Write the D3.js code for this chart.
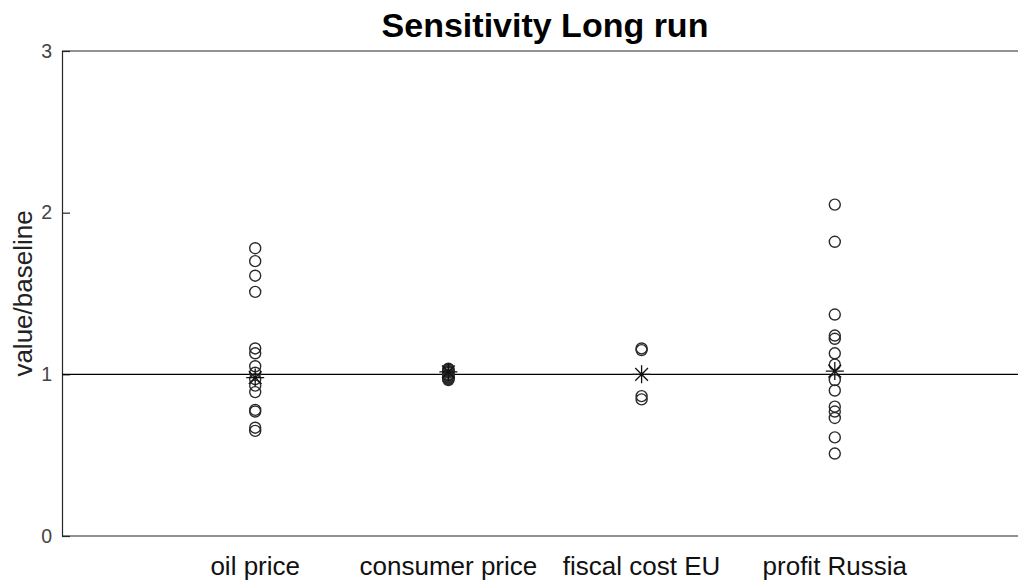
<!DOCTYPE html>
<html>
<head>
<meta charset="utf-8">
<script src="https://cdn.jsdelivr.net/npm/d3@7"></script>
<style>
  html, body { margin: 0; padding: 0; background: #fff; overflow: hidden; }
  svg { display: block; }
</style>
</head>
<body>
<svg id="chart" width="1018" height="585"></svg>
<script>
// ---- data ----
const categories = ["oil price", "consumer price", "fiscal cost EU", "profit Russia"];
const oilPrice = [1.78, 1.70, 1.61, 1.51, 1.16, 1.13, 1.05, 1.01, 0.97, 0.93, 0.89, 0.78, 0.77, 0.67, 0.65];
const consumerPrice = [1.035, 1.03, 1.025, 1.02, 1.015, 1.01, 1.0, 0.995, 0.99, 0.985, 0.98, 0.975, 0.97, 0.965];
const fiscalCostEU = [1.16, 1.15, 0.865, 0.845];
const profitRussia = [2.05, 1.82, 1.37, 1.24, 1.22, 1.13, 1.06, 0.965, 0.90, 0.80, 0.77, 0.73, 0.61, 0.51];
const centralValues = [0.98, 1.015, 1.0, 1.02];
const yTicks = [0, 1, 2, 3];
const baseline = 1;

const seriesList = [oilPrice, consumerPrice, fiscalCostEU, profitRussia];

// ---- layout ----
const svg = d3.select("#chart");
const mLeft = 62, mRight = 1028, mTop = 51, mBottom = 536;

const x = d3.scaleLinear().domain([0, categories.length + 1]).range([mLeft, mRight]);
const y = d3.scaleLinear().domain([0, 3]).range([mBottom, mTop]);

const axisColor = "#262626";

// box lines
svg.append("line").attr("x1", mLeft).attr("x2", mRight).attr("y1", mTop).attr("y2", mTop)
  .attr("stroke", axisColor).attr("stroke-width", 1.2);
svg.append("line").attr("x1", mLeft).attr("x2", mRight).attr("y1", mBottom).attr("y2", mBottom)
  .attr("stroke", axisColor).attr("stroke-width", 1.2);

// left y axis (ticks inward)
const yAxis = d3.axisLeft(y).tickValues(yTicks).tickSize(-8).tickPadding(10).tickFormat(d3.format("d"));
const gy = svg.append("g").attr("transform", `translate(${mLeft},0)`).call(yAxis);
gy.select(".domain").attr("stroke", axisColor).attr("stroke-width", 1.2);
gy.selectAll(".tick line").attr("stroke", axisColor).attr("stroke-width", 1.2);
gy.selectAll(".tick text").attr("font-family", "Liberation Sans, Arial, sans-serif")
  .attr("font-size", 19.5).attr("fill", "#444");

// right y axis ticks (off-canvas mostly)
const yAxisR = d3.axisRight(y).tickValues(yTicks).tickSize(-8).tickFormat("");
const gyr = svg.append("g").attr("transform", `translate(${mRight},0)`).call(yAxisR);
gyr.selectAll("line, path").attr("stroke", axisColor).attr("stroke-width", 1.2);

// baseline
svg.append("line")
  .attr("x1", mLeft).attr("x2", mRight)
  .attr("y1", y(baseline)).attr("y2", y(baseline))
  .attr("stroke", "#000").attr("stroke-width", 1.4);

// circles
const pts = [];
seriesList.forEach((s, i) => s.forEach(v => pts.push({ c: i + 1, v })));
svg.append("g").selectAll("circle").data(pts).join("circle")
  .attr("cx", d => x(d.c)).attr("cy", d => y(d.v))
  .attr("r", 5.5)
  .attr("fill", "none").attr("stroke", "#2a2a2a").attr("stroke-width", 1.4);

// asterisk symbol (plus + cross)
const asterisk = {
  draw(ctx, size) {
    const r = Math.sqrt(size) / 2;
    const d = r * Math.SQRT1_2;
    ctx.moveTo(0, -r); ctx.lineTo(0, r);
    ctx.moveTo(-r, 0); ctx.lineTo(r, 0);
    ctx.moveTo(-d, -d); ctx.lineTo(d, d);
    ctx.moveTo(-d, d); ctx.lineTo(d, -d);
  }
};
svg.append("g").selectAll("path").data(centralValues).join("path")
  .attr("transform", (d, i) => `translate(${x(i + 1)},${y(d)})`)
  .attr("d", d3.symbol().type(asterisk).size(18 * 18))
  .attr("fill", "none").attr("stroke", "#111").attr("stroke-width", 1.3);

// category labels
svg.append("g").selectAll("text").data(categories).join("text")
  .attr("x", (d, i) => x(i + 1))
  .attr("y", 575)
  .attr("text-anchor", "middle")
  .attr("font-family", "Liberation Sans, Arial, sans-serif")
  .attr("font-size", 26)
  .attr("fill", "#111")
  .text(d => d);

// title
svg.append("text")
  .attr("x", (mLeft + mRight) / 2).attr("y", 37)
  .attr("text-anchor", "middle")
  .attr("font-family", "Liberation Sans, Arial, sans-serif")
  .attr("font-weight", "bold").attr("font-size", 34)
  .attr("fill", "#000")
  .text("Sensitivity Long run");

// y label
svg.append("text")
  .attr("transform", `translate(32,${(mTop + mBottom) / 2}) rotate(-90)`)
  .attr("text-anchor", "middle")
  .attr("font-family", "Liberation Sans, Arial, sans-serif")
  .attr("font-size", 26)
  .attr("fill", "#222")
  .text("value/baseline");
</script>
</body>
</html>
